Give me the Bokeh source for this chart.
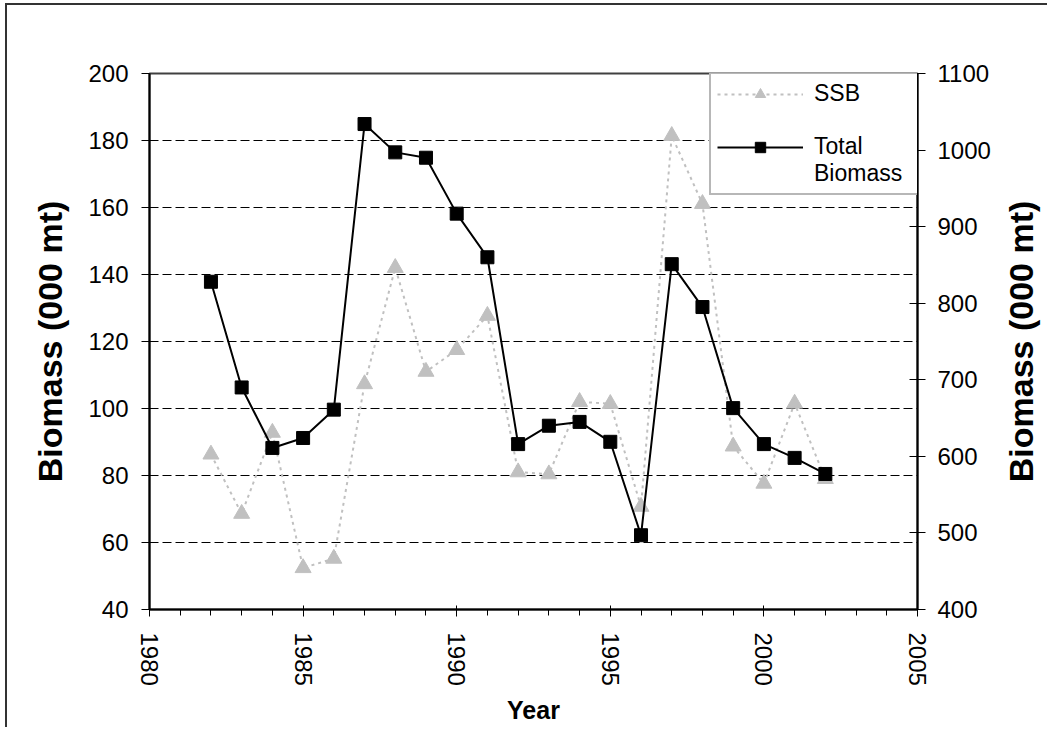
import math
from bokeh.plotting import figure
from bokeh.layouts import row
from bokeh.models import LinearAxis, Range1d, SingleIntervalTicker, Legend, LegendItem
from bokeh.core.properties import value
from bokeh.embed import file_html
from bokeh.resources import INLINE

# ---- data ----
years = list(range(1982, 2003))
ssb = [86.3, 68.6, 92.8, 52.4, 55.2, 107.3, 142.0, 111.0, 117.5, 127.7, 81.0,
       80.4, 102.0, 101.4, 70.7, 181.4, 161.1, 88.7, 77.6, 101.5, 79.0]
total_biomass = [828, 690, 611, 624, 661, 1034, 997, 990, 917, 860, 616,
                 640, 645, 619, 497, 851, 795, 663, 616, 598, 577]
legend_labels = ["SSB", " ", "Total", "Biomass"]
x_title = "Year"
y_title_left = "Biomass (000 mt)"
y_title_right = "Biomass (000 mt)"

FONT = "Liberation Sans"
TOP, BOTTOM = 68, 118

fig = figure(frame_width=768, frame_height=536,
             min_border_left=142, min_border_right=75,
             min_border_top=TOP, min_border_bottom=BOTTOM,
             x_range=Range1d(1980, 2005), y_range=Range1d(40, 200),
             output_backend="svg", toolbar_location=None)
fig.outline_line_color = "#404040"
fig.outline_line_width = 2
fig.background_fill_color = "white"
fig.border_fill_color = "white"

# x axis
xa = fig.xaxis[0]
xa.ticker = SingleIntervalTicker(interval=5, num_minor_ticks=5)
xa.major_label_orientation = "vertical"
xa.axis_label = x_title
xa.axis_line_color = "black"
xa.axis_line_width = 2
xa.major_tick_in = 4
xa.major_tick_out = 7
xa.minor_tick_in = 0
xa.minor_tick_out = 6
xa.major_tick_line_color = "black"
xa.minor_tick_line_color = "black"
xa.major_label_standoff = 16
xa.axis_label_standoff = 7

# left axis
ya = fig.yaxis[0]
ya.ticker = SingleIntervalTicker(interval=20, num_minor_ticks=0)
ya.axis_label = y_title_left
ya.axis_line_color = "black"
ya.axis_line_width = 2
ya.major_tick_in = 0
ya.major_tick_out = 8
ya.minor_tick_line_color = None
ya.major_label_standoff = 13
ya.axis_label_standoff = 16

# right axis
fig.extra_y_ranges = {"right": Range1d(400, 1100)}
ya2 = LinearAxis(y_range_name="right",
                 ticker=SingleIntervalTicker(interval=100, num_minor_ticks=0))
ya2.axis_line_color = "black"
ya2.axis_line_width = 2
ya2.major_tick_in = 8
ya2.major_tick_out = 8
ya2.minor_tick_line_color = None
ya2.major_label_standoff = 12
fig.add_layout(ya2, "right")

for ax in (xa, ya, ya2):
    ax.major_label_text_font = FONT
    ax.major_label_text_font_size = "24px"
    ax.major_label_text_color = "black"
    ax.axis_label_text_font = FONT
    ax.axis_label_text_font_style = "bold"
    ax.axis_label_text_color = "black"
    ax.axis_label_text_font_size = "34px"
xa.axis_label_text_font_size = "25px"

# grid
fig.xgrid.visible = False
fig.ygrid.grid_line_color = "black"
fig.ygrid.grid_line_width = 1
fig.ygrid.grid_line_dash = "9 4"

# series
r1 = fig.line(years, ssb, line_color="#C0C0C0", line_width=2, line_dash="3 4")
r2 = fig.scatter(years, ssb, marker="triangle", size=16,
                 fill_color="#C0C0C0", line_color="#C0C0C0")
r3 = fig.line(years, total_biomass, y_range_name="right", line_color="black", line_width=2)
r4 = fig.scatter(years, total_biomass, y_range_name="right", marker="square", size=13,
                 fill_color="black", line_color="black")
# invisible placeholder renderers (no data) for legend spacing / second label line
blank1 = fig.line([], [], line_alpha=0)
blank2 = fig.line([], [], line_alpha=0)

legend = Legend(items=[LegendItem(label=legend_labels[0], renderers=[r1, r2]),
                       LegendItem(label=legend_labels[1], renderers=[blank1]),
                       LegendItem(label=legend_labels[2], renderers=[r3, r4]),
                       LegendItem(label=legend_labels[3], renderers=[blank2])],
                location=(560, 414), margin=0, padding=6, spacing=0,
                glyph_width=86, glyph_height=26, label_height=26, label_width=110,
                label_standoff=11,
                label_text_font=FONT, label_text_font_size="23px",
                label_text_color="black",
                border_line_color="#707070", border_line_width=2,
                background_fill_color="white", background_fill_alpha=1.0)
fig.add_layout(legend)

# right-hand title strip (reads bottom-to-top, like the left title)
q = figure(width=54, frame_height=536, min_border_left=0, min_border_right=0,
           min_border_top=TOP, min_border_bottom=BOTTOM,
           x_range=Range1d(0, 1), y_range=Range1d(40, 200),
           x_axis_type=None, y_axis_type=None,
           output_backend="svg", toolbar_location=None)
q.outline_line_color = None
q.xgrid.visible = False
q.ygrid.visible = False
q.background_fill_color = "white"
q.border_fill_color = "white"
q.text(x=[(q.x_range.start + q.x_range.end) / 2],
       y=[(q.y_range.start + q.y_range.end) / 2],
       text=[y_title_right], angle=math.pi / 2,
       text_align="center", text_baseline="middle",
       text_font=value(FONT), text_font_style="bold",
       text_font_size="34px", text_color="black")

p = row(fig, q)
p.styles = {"border-top": "2px solid #333333", "border-left": "2px solid #333333",
            "margin-left": "5px", "margin-top": "3px"}

open("out.html", "w").write(file_html(p, INLINE))
